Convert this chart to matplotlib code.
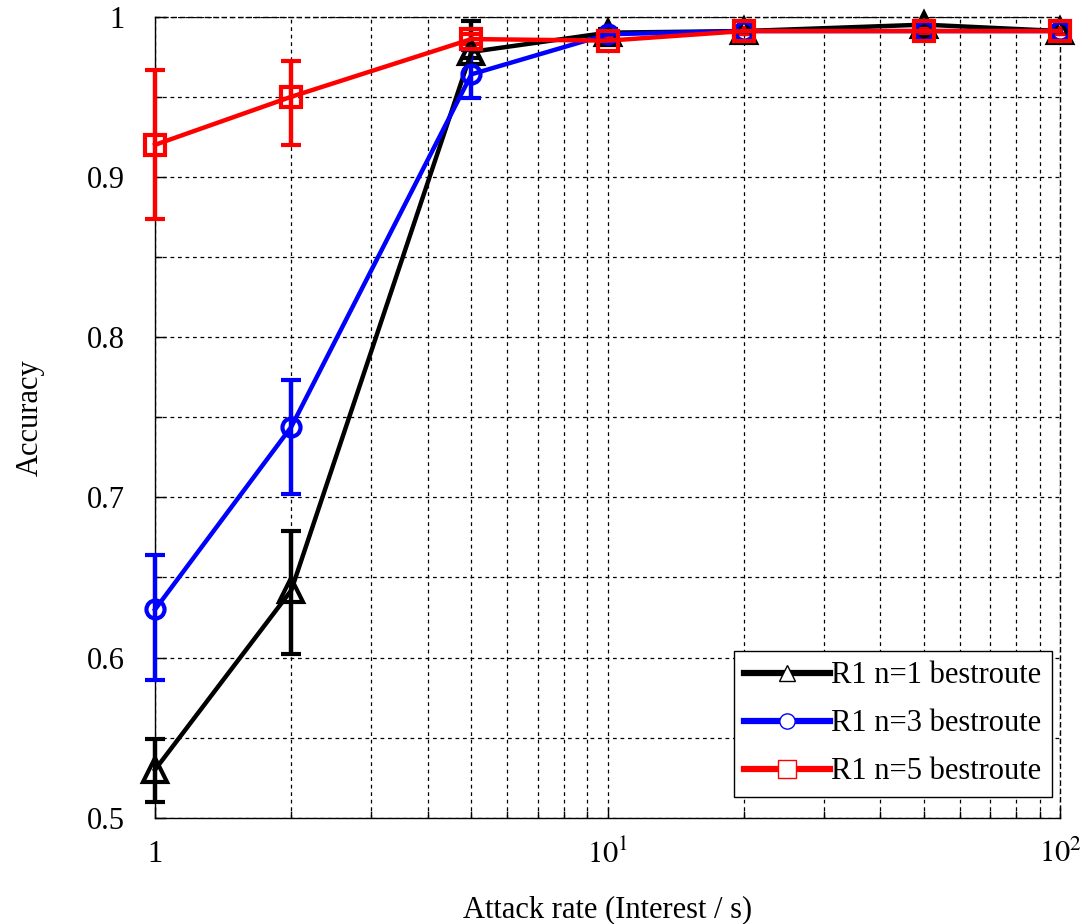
import matplotlib
matplotlib.use("Agg")
import matplotlib.pyplot as plt
from matplotlib.lines import Line2D
from matplotlib.ticker import FixedLocator, FixedFormatter, NullFormatter

plt.rcParams["font.family"] = ["Liberation Serif", "DejaVu Serif"]
plt.rcParams["mathtext.fontset"] = "stix"

# Dados
rate = [1, 2, 5, 10, 20, 50, 100]

acc_n1 = [0.530, 0.642, 0.978, 0.990, 0.991, 0.995, 0.991]
err_lo_n1 = [0.020, 0.040, 0.004, 0.002, 0.002, 0.002, 0.002]
err_hi_n1 = [0.019, 0.037, 0.019, 0.002, 0.002, 0.002, 0.002]

acc_n3 = [0.630, 0.744, 0.964, 0.989, 0.991, 0.991, 0.991]
err_lo_n3 = [0.044, 0.042, 0.015, 0.002, 0.002, 0.002, 0.002]
err_hi_n3 = [0.034, 0.029, 0.015, 0.002, 0.002, 0.002, 0.002]

acc_n5 = [0.920, 0.950, 0.986, 0.985, 0.991, 0.991, 0.991]
err_lo_n5 = [0.046, 0.030, 0.003, 0.003, 0.002, 0.002, 0.002]
err_hi_n5 = [0.047, 0.022, 0.003, 0.003, 0.002, 0.002, 0.002]

labels = ["R1 n=1 bestroute", "R1 n=3 bestroute", "R1 n=5 bestroute"]

fig = plt.figure(figsize=(10.92, 9.24), dpi=100)
ax = fig.add_axes([0.142, 0.115, 0.829, 0.867])

series = [
    (acc_n1, err_lo_n1, err_hi_n1, "black", "^", 17),
    (acc_n3, err_lo_n3, err_hi_n3, "blue", "o", 13),
    (acc_n5, err_lo_n5, err_hi_n5, "red", "s", 15),
]
for acc, lo, hi, cor, mk, ms in series:
    ax.errorbar(rate, acc, yerr=[lo, hi], color=cor, lw=3.2, marker=mk,
                markersize=ms, markerfacecolor="none", markeredgewidth=3,
                capsize=7, capthick=3.2, elinewidth=3.2, clip_on=False, zorder=3)

ax.set_xscale("log")
ax.set_xlim(1, 100)
ax.set_ylim(0.5, 1)

ax.xaxis.set_major_locator(FixedLocator([1, 10, 100]))
ax.xaxis.set_major_formatter(FixedFormatter(["1", "$10^1$", "$10^2$"]))
ax.xaxis.set_minor_locator(FixedLocator([2, 3, 4, 5, 6, 7, 8, 9, 20, 30, 40, 50, 60, 70, 80, 90]))
ax.xaxis.set_minor_formatter(NullFormatter())

ax.set_yticks([0.5, 0.6, 0.7, 0.8, 0.9, 1.0])
ax.set_yticklabels(["0.5", "0.6", "0.7", "0.8", "0.9", "1"])
ax.set_yticks([0.55, 0.65, 0.75, 0.85, 0.95], minor=True)

ax.tick_params(which="both", direction="in", labelsize=22, top=False, right=False)
ax.tick_params(which="major", length=8, width=1, pad=22)
ax.tick_params(which="minor", length=5, width=1)
ax.tick_params(axis="x", which="major", pad=16)

ax.grid(True, which="both", color="black", linestyle=(0, (3, 3)), linewidth=0.9)
ax.spines["top"].set_linestyle((0, (3, 3)))
ax.spines["right"].set_linestyle((0, (3, 3)))
for s in ax.spines.values():
    s.set_linewidth(1.0)

ax.set_xlabel("Attack rate (Interest / s)", fontsize=22, labelpad=18)
ax.set_ylabel("Accuracy", fontsize=22, labelpad=30)

handles = [
    Line2D([], [], color="black", lw=4.5, marker="^", markersize=12,
           markerfacecolor="white", markeredgecolor="black", markeredgewidth=1),
    Line2D([], [], color="blue", lw=4.5, marker="o", markersize=11,
           markerfacecolor="white", markeredgecolor="blue", markeredgewidth=1),
    Line2D([], [], color="red", lw=4.5, marker="s", markersize=13,
           markerfacecolor="white", markeredgecolor="red", markeredgewidth=1),
]
leg = ax.legend(handles, labels, loc="lower right", fontsize=22, handlelength=2.8,
                handletextpad=0.05, borderpad=0.35, labelspacing=0.62,
                borderaxespad=0, fancybox=False, framealpha=1, edgecolor="black",
                bbox_to_anchor=(0.991, 0.026))
leg.get_frame().set_linewidth(1.0)

fig.savefig("out.png", dpi=100)
